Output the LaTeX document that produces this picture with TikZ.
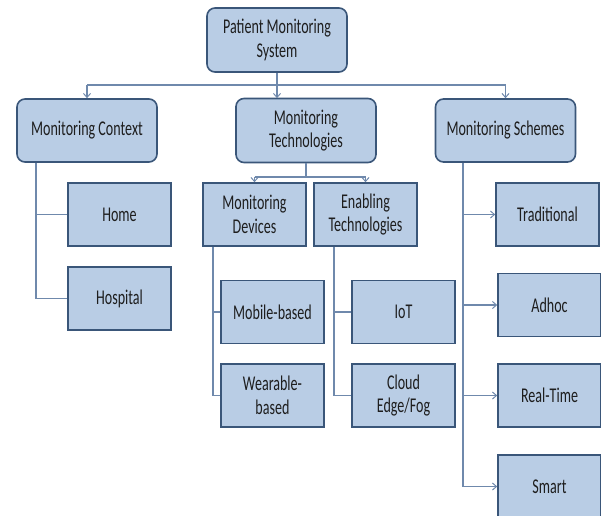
\documentclass[tikz,border=0pt]{standalone}
\usepackage{fontspec}
\setmainfont{Carlito}[FakeStretch=0.67]
\usetikzlibrary{arrows.meta}
\definecolor{boxfill}{HTML}{B9CDE5}
\definecolor{boxline}{HTML}{3A5679}
\definecolor{linkline}{HTML}{6F89AC}
\definecolor{ink}{HTML}{1E1E1E}
\tikzset{
  x=1pt, y=-1pt,
  base/.style={draw=boxline, line width=1.6pt, fill=boxfill, text=ink,
    align=center, font=\fontsize{21}{23.5}\selectfont, inner sep=2pt},
  topbox/.style={base, rounded corners=8pt, minimum width=140pt, minimum height=64pt},
  leafbox/.style={base, minimum width=103pt, minimum height=63pt},
  link/.style={draw=linkline, line width=1.1pt},
  arr/.style={link, -{Straight Barb[length=4pt,width=7pt,line width=1pt]}}
}
\begin{document}
\begin{tikzpicture}
\useasboundingbox (0,0) rectangle (601,515);
\begin{scope}
\clip (0,0) rectangle (601,515);

% nodes
\node[topbox] (root) at (277,40) {Patient Monitoring\\System};
\node[topbox, minimum height=63pt] (ctx) at (87,130.5) {Monitoring Context};
\node[topbox, minimum height=64pt] (tech) at (306,130.5) {Monitoring\\Technologies};
\node[topbox, minimum height=63pt] (sch) at (505.5,130.5) {Monitoring Schemes};

\node[leafbox] (home) at (119.5,214.5) {Home};
\node[leafbox] (hosp) at (119.5,298.5) {Hospital};

\node[leafbox] (dev) at (254.5,214.5) {Monitoring\\Devices};
\node[leafbox] (enab) at (365.5,214.5) {Enabling\\Technologies};

\node[leafbox] (mob) at (272.5,312) {Mobile-based};
\node[leafbox] (wear) at (272.5,395.5) {Wearable-\\based};
\node[leafbox] (iot) at (403.5,312) {IoT};
\node[leafbox] (cloud) at (403.5,395.5) {Cloud\\Edge/Fog};

\node[leafbox] (trad) at (547.5,214.5) {Traditional};
\node[leafbox] (adhoc) at (549.5,305) {Adhoc};
\node[leafbox] (rt) at (549.5,395.5) {Real-Time};
\node[leafbox] (smart) at (549.5,486.5) {Smart};

% top-level bus
\coordinate (bus) at (277,85);
\draw[link] (root.south) -- (root.south |- bus);
\draw[link] (ctx.north |- bus) -- (sch.north |- bus);
\draw[arr] (ctx.north |- bus) -- (ctx.north);
\draw[arr] (root.south |- bus) -- (root.south |- ctx.north);
\draw[arr] (sch.north |- bus) -- (sch.north);

% technologies fork
\coordinate (fork) at (306,177);
\draw[link] (tech.south) -- (tech.south |- fork);
\draw[link] (dev.north |- fork) -- (enab.north |- fork);
\draw[arr] (dev.north |- fork) -- (dev.north);
\draw[arr] (enab.north |- fork) -- (enab.north);

% context branch
\coordinate (ctxrail) at (36,0);
\draw[link] (ctxrail |- ctx.south) -- (ctxrail |- hosp.west) -- (hosp.west);
\draw[link] (ctxrail |- home.west) -- (home.west);

% devices branch
\coordinate (devrail) at (213,0);
\draw[link] (devrail |- dev.south) -- (devrail |- wear.west) -- (wear.west);
\draw[link] (devrail |- mob.west) -- (mob.west);

% enabling branch
\coordinate (enabrail) at (334,0);
\draw[link] (enabrail |- enab.south) -- (enabrail |- cloud.west) -- (cloud.west);
\draw[link] (enabrail |- iot.west) -- (iot.west);

% schemes branch
\coordinate (schrail) at (463,0);
\draw[link] (schrail |- sch.south) -- (schrail |- smart.west);
\draw[arr] (schrail |- trad.west) -- (trad.west);
\draw[arr] (schrail |- adhoc.west) -- (adhoc.west);
\draw[arr] (schrail |- rt.west) -- (rt.west);
\draw[arr] (schrail |- smart.west) -- (smart.west);
\end{scope}
\end{tikzpicture}
\end{document}
